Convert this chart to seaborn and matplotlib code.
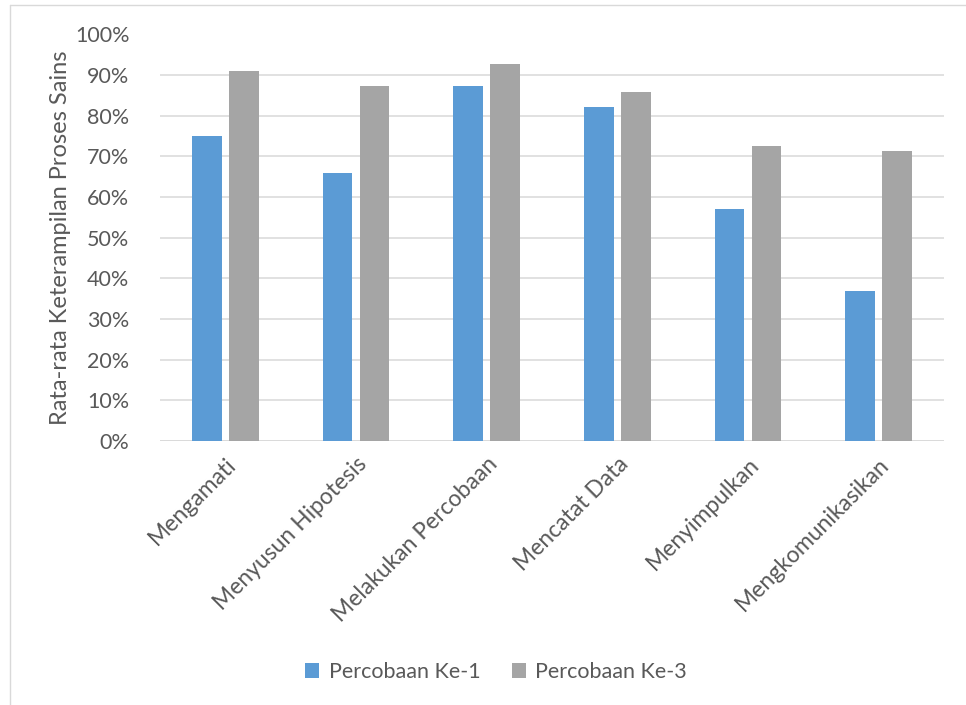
import matplotlib
matplotlib.use("Agg")
import matplotlib.pyplot as plt
from matplotlib.lines import Line2D
from matplotlib.patches import Patch
from matplotlib.ticker import PercentFormatter, MultipleLocator
import seaborn as sns
import pandas as pd

# Keterampilan proses sains per aspek
aspek = ["Mengamati", "Menyusun Hipotesis", "Melakukan Percobaan",
         "Mencatat Data", "Menyimpulkan", "Mengkomunikasikan"]
percobaan_1 = [75.0, 66.0, 87.4, 82.1, 57.1, 36.8]
percobaan_3 = [91.0, 87.4, 92.8, 85.8, 72.6, 71.3]
seri = ["Percobaan Ke-1", "Percobaan Ke-3"]
warna = {"Percobaan Ke-1": "#5B9BD5", "Percobaan Ke-3": "#A5A5A5"}

df = pd.DataFrame({
    "Aspek": aspek * 2,
    "Nilai": percobaan_1 + percobaan_3,
    "Seri": [seri[0]] * len(aspek) + [seri[1]] * len(aspek),
})

sns.set_theme(style="white")
plt.rcParams["font.family"] = ["Lato", "DejaVu Sans"]
text_color = "#595959"
grid_color = "#D9D9D9"
fs = 15.5

W, H = 966, 705
fig = plt.figure(figsize=(W / 100, H / 100), dpi=100)
ax = fig.add_axes([160 / W, 1 - 441 / H, (944 - 160) / W, (441 - 34.5) / H])

sns.barplot(data=df, x="Aspek", y="Nilai", hue="Seri", order=aspek,
            hue_order=seri, palette=warna, width=0.566, gap=0.205,
            linewidth=0, saturation=1, legend=False, ax=ax, zorder=3)

ax.set_ylim(0, 100)
ax.set_xlim(-0.5, len(aspek) - 0.5)
ax.yaxis.set_major_locator(MultipleLocator(10))
ax.yaxis.set_major_formatter(PercentFormatter(decimals=0))
ax.grid(axis="y", color=grid_color, linewidth=1.1, zorder=0)
ax.set_axisbelow(True)
for s in ax.spines.values():
    s.set_visible(False)
ax.axhline(0, color=grid_color, linewidth=1.1, zorder=1)

ax.tick_params(axis="y", length=0, pad=22, labelsize=fs, labelcolor=text_color)
ax.tick_params(axis="x", length=0, pad=9, labelsize=16.5, labelcolor=text_color)
for lbl in ax.get_xticklabels():
    lbl.set_rotation(45)
    lbl.set_ha("right")
    lbl.set_va("top")
    lbl.set_rotation_mode("anchor")

ax.set_xlabel("")
ax.set_ylabel("Rata-rata Keterampilan Proses Sains", fontsize=17,
              color=text_color)
ax.yaxis.set_label_coords((71 - 160) / (944 - 160), 0.5)

handles = [Patch(facecolor=warna[s], edgecolor="none") for s in seri]
fig.legend(handles, seri, loc="center", ncol=2, frameon=False,
           bbox_to_anchor=(496 / W, 1 - 672 / H),
           bbox_transform=fig.transFigure,
           fontsize=fs, labelcolor=text_color,
           handlelength=0.65, handleheight=0.65, handletextpad=0.45,
           columnspacing=1.45)

# chart area frame
border = "#D9D9D9"
fig.add_artist(Line2D([10 / W, 1], [1 - 5 / H, 1 - 5 / H], color=border,
                      linewidth=1.0, transform=fig.transFigure))
fig.add_artist(Line2D([10 / W, 10 / W], [0, 1 - 5 / H], color=border,
                      linewidth=1.0, transform=fig.transFigure))

fig.savefig("out.png", dpi=100, facecolor="white")
